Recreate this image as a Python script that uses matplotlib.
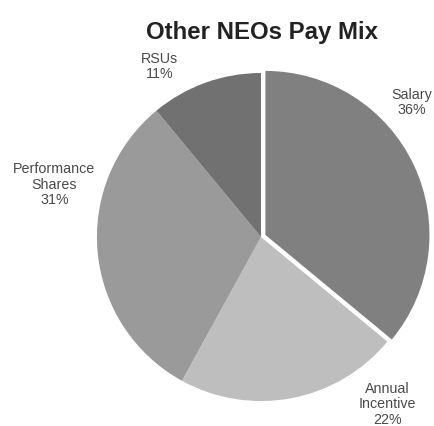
import matplotlib.pyplot as plt

# Pay mix data (percent)
labels = ['Salary', 'Annual\nIncentive', 'Performance\nShares', 'RSUs']
values = [36, 22, 31, 11]
colors = ['#808080', '#bebebe', '#9a9a9a', '#717171']
explode = [0.03, 0, 0, 0]

# label placement (pie radius = 1)
label_pos = [(0.92, 0.82), (0.77, -1.02), (-1.26, 0.32), (-0.62, 1.04)]

plt.rcParams['font.family'] = ['Liberation Sans', 'DejaVu Sans']

fig = plt.figure(figsize=(4.35, 4.26), dpi=100)
ax = fig.add_axes([0, 0, 1, 1])

#Draw the pie clockwise from the top
ax.pie(values, colors=colors, explode=explode, startangle=90, counterclock=False,
       wedgeprops=dict(linewidth=0))

for lab, val, (x, y) in zip(labels, values, label_pos):
    ax.text(x, y, '{l}\n{v}%'.format(l=lab, v=val), ha='center', va='center',
            fontsize=10.3, color='#4a4a4a', linespacing=1.15)

ax.set_xlim(-1.591, 1.061)
ax.set_ylim(-1.152, 1.445)
ax.set_aspect('equal', adjustable='box')
ax.axis('off')

fig.text(262 / 435, 1 - 33 / 426, 'Other NEOs Pay Mix', ha='center', va='center',
         fontsize=17.3, fontweight='bold', color='#222222')

fig.savefig('out.png', dpi=100)
